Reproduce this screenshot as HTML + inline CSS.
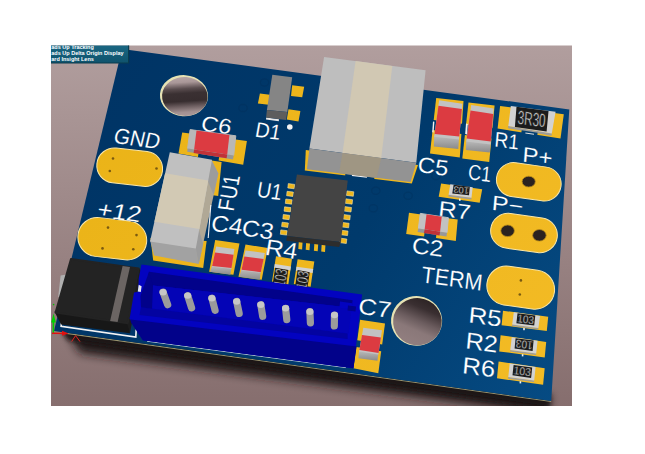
<!DOCTYPE html>
<html><head><meta charset="utf-8"><title>PCB 3D view</title>
<style>
html,body{margin:0;padding:0;background:#fff;}
body{width:645px;height:454px;overflow:hidden;position:relative;}
svg{position:absolute;left:0;top:0;display:block;}
text{font-family:"Liberation Sans",sans-serif;}
</style></head><body>
<svg width="645" height="454" viewBox="0 0 645 454">
<defs>
<clipPath id="vp"><rect x="51" y="45.4" width="521" height="360.5"/></clipPath>
<linearGradient id="bg" x1="0" y1="0" x2="0" y2="1">
<stop offset="0" stop-color="#b19e9e"/><stop offset="1" stop-color="#866e6e"/></linearGradient>
<linearGradient id="brd" gradientUnits="userSpaceOnUse" x1="90" y1="80" x2="560" y2="390">
<stop offset="0" stop-color="#003465"/><stop offset="0.55" stop-color="#003a6c"/><stop offset="1" stop-color="#064b83"/></linearGradient>
<linearGradient id="hole1" x1="0.42" y1="0" x2="0.58" y2="1">
<stop offset="0" stop-color="#b8a6a6"/><stop offset="0.14" stop-color="#a99798"/><stop offset="0.3" stop-color="#5a4d4f"/><stop offset="0.42" stop-color="#3a3032"/><stop offset="0.62" stop-color="#372d2f"/><stop offset="0.76" stop-color="#6f6062"/><stop offset="0.9" stop-color="#a39192"/><stop offset="1" stop-color="#ab999a"/></linearGradient>
<linearGradient id="hole2" x1="0.68" y1="0" x2="0.36" y2="1">
<stop offset="0" stop-color="#2b2223"/><stop offset="0.22" stop-color="#3a2f31"/><stop offset="0.48" stop-color="#6b5c5e"/><stop offset="0.68" stop-color="#8a7879"/><stop offset="1" stop-color="#927f80"/></linearGradient>
<linearGradient id="ovl" x1="0" y1="0" x2="0" y2="1">
<stop offset="0" stop-color="#1b6884"/><stop offset="1" stop-color="#0f536d"/></linearGradient>
<linearGradient id="yel" gradientUnits="userSpaceOnUse" x1="90" y1="80" x2="560" y2="390">
<stop offset="0" stop-color="#eab317"/><stop offset="1" stop-color="#f3bb25"/></linearGradient>
<linearGradient id="capf" x1="0" y1="0" x2="0" y2="1">
<stop offset="0" stop-color="#bcbcbc"/><stop offset="1" stop-color="#8a8a8a"/></linearGradient>
<filter id="blur" x="-20%" y="-20%" width="140%" height="140%"><feGaussianBlur stdDeviation="5"/></filter>
<filter id="blur1" x="-20%" y="-20%" width="140%" height="140%"><feGaussianBlur stdDeviation="2.2"/></filter>
</defs>
<g clip-path="url(#vp)">
<rect x="51" y="45" width="521" height="361" fill="url(#bg)"/>

<polygon points="64.0,327.0 550.2,395.0 547.2,414.0 80.0,353.0" fill="#1a1213" filter="url(#blur)" opacity="0.95"/>
<polygon points="60.0,327.0 550.2,395.0 549.2,408.0 68.0,340.0" fill="#1a1213" filter="url(#blur1)" opacity="0.95"/>
<polygon points="54.0,331.0 551.2,401.0 551.2,402.0 54.0,332.3" fill="#9a946e" />
<polygon points="122.0,49.0 569.3,109.4 551.2,401.0 54.0,331.0" fill="url(#brd)" />
<g transform="rotate(4 184 95.7)">
<ellipse cx="184" cy="95.7" rx="24.1" ry="20.6" fill="#e6e2b4"/>
<ellipse cx="184.9" cy="96.4" rx="22.8" ry="19.4" fill="url(#hole1)"/>
</g>
<g transform="rotate(6 416.6 320.9)">
<ellipse cx="416.6" cy="320.9" rx="25.6" ry="24.8" fill="#e6e2b4"/>
<ellipse cx="417.5" cy="321.6" rx="24.3" ry="23.6" fill="url(#hole2)"/>
</g>
<g transform="rotate(6.5 129.7 167.2)">
<rect x="96.7" y="149.7" width="66" height="35" rx="17.5" ry="17.5" fill="url(#yel)" stroke="#fbe6a6" stroke-width="1"/>
</g>
<circle cx="113" cy="158.5" r="1.3" fill="#7a5a10"/>
<circle cx="109.8" cy="171" r="1.3" fill="#7a5a10"/>
<circle cx="156.5" cy="168.5" r="1.3" fill="#7a5a10"/>
<g transform="rotate(6.5 112.3 238.7)">
<rect x="77.8" y="219.2" width="69" height="39" rx="19.5" ry="19.5" fill="url(#yel)" stroke="#fbe6a6" stroke-width="1"/>
</g>
<circle cx="108" cy="227.6" r="1.3" fill="#7a5a10"/>
<circle cx="136.5" cy="235.1" r="1.3" fill="#7a5a10"/>
<circle cx="102.5" cy="248.4" r="1.3" fill="#7a5a10"/>
<circle cx="133.3" cy="249.2" r="1.3" fill="#7a5a10"/>
<g transform="rotate(8 528.8 181.8)">
<rect x="496.3" y="164.8" width="65" height="34" rx="17" ry="17" fill="url(#yel)" stroke="#fbe6a6" stroke-width="1"/>
</g>
<ellipse cx="528.7" cy="181.6" rx="6.6" ry="5.4" fill="#2a2220" stroke="#b98a1a" stroke-width="0.8"/>
<g transform="rotate(8 524 233)">
<rect x="490.5" y="215.5" width="67" height="35" rx="17.5" ry="17.5" fill="url(#yel)" stroke="#fbe6a6" stroke-width="1"/>
</g>
<ellipse cx="507.6" cy="230.8" rx="6.8" ry="5.8" fill="#2a2220" stroke="#b98a1a" stroke-width="0.8"/>
<ellipse cx="539.4" cy="235.3" rx="6.8" ry="5.8" fill="#2a2220" stroke="#b98a1a" stroke-width="0.8"/>
<g transform="rotate(8 520.7 287.6)">
<rect x="486.7" y="268.1" width="68" height="39" rx="19.5" ry="19.5" fill="url(#yel)" stroke="#fbe6a6" stroke-width="1"/>
</g>
<circle cx="520.9" cy="280.4" r="1.3" fill="#7a5a10"/>
<circle cx="519.8" cy="294.5" r="1.3" fill="#7a5a10"/>
<polygon points="436.2,97.9 463.5,101.1 462.0,123.7 433.7,120.1" fill="url(#yel)" />
<polygon points="432.6,130.1 461.4,133.9 459.8,157.6 430.0,153.4" fill="url(#yel)" />
<polygon points="434.2,135.6 459.0,138.3 458.3,149.0 433.8,146.4" fill="url(#capf)" />
<polygon points="439.1,100.2 462.4,103.7 459.0,139.5 434.2,136.8" fill="#c2c2c2" />
<polygon points="438.4,105.7 461.9,109.1 459.3,136.6 434.6,133.9" fill="#dc3b41" />
<polygon points="468.5,102.4 494.6,105.6 492.4,128.2 466.0,124.8" fill="url(#yel)" />
<polygon points="464.9,134.9 491.5,138.4 489.2,162.1 462.3,158.4" fill="url(#yel)" />
<polygon points="466.3,140.3 490.6,143.3 489.8,152.6 465.8,149.9" fill="url(#capf)" />
<polygon points="471.2,105.0 493.7,108.5 490.6,144.5 466.3,141.5" fill="#c2c2c2" />
<polygon points="470.5,110.5 493.2,113.9 490.8,141.6 466.7,138.6" fill="#dc3b41" />
<polygon points="466.0,123.6 467.8,123.9 467.0,134.4 465.2,134.1" fill="#f0f0f0" />
<polygon points="433.0,121.6 434.4,121.8 433.6,132.4 432.2,132.2" fill="#f0f0f0" />
<polygon points="215.2,240.0 239.5,243.4 233.4,274.8 209.1,271.7" fill="url(#yel)" />
<polygon points="212.1,265.5 231.4,267.5 230.4,274.8 210.1,271.7" fill="url(#capf)" />
<polygon points="216.2,246.4 234.4,248.9 231.4,268.7 212.1,266.7" fill="#c2c2c2" />
<polygon points="215.0,252.5 233.5,254.8 231.5,268.1 212.2,266.1" fill="#dc3b41" />
<polygon points="245.5,244.4 267.8,248.1 261.7,279.8 238.5,276.8" fill="url(#yel)" />
<polygon points="241.5,269.1 260.7,271.6 259.7,279.8 239.5,276.8" fill="url(#capf)" />
<polygon points="245.5,250.5 264.8,252.9 260.7,272.8 241.5,270.3" fill="#c2c2c2" />
<polygon points="244.3,256.4 263.6,258.9 260.8,272.2 241.6,269.7" fill="#dc3b41" />
<polygon points="360.1,319.8 385.0,323.5 382.2,344.4 357.3,340.2" fill="url(#yel)" />
<polygon points="356.3,347.0 381.2,351.3 378.3,373.2 353.4,368.3" fill="url(#yel)" />
<polygon points="359.1,350.4 378.3,353.4 377.5,360.8 358.4,358.3" fill="url(#capf)" />
<polygon points="363.3,327.7 382.0,330.2 378.3,354.6 359.1,351.6" fill="#c2c2c2" />
<polygon points="362.0,334.9 380.9,337.5 378.6,352.9 359.4,349.9" fill="#dc3b41" />
<polygon points="182.2,132.4 201.6,135.0 197.9,157.0 178.5,153.6" fill="url(#yel)" />
<polygon points="222.3,137.8 246.9,141.1 243.2,164.8 218.6,160.5" fill="url(#yel)" />
<polygon points="190.1,129.6 235.8,135.8 233.7,155.4 187.6,148.4" fill="#b8b8b8" stroke="#b8b8b8" stroke-width="1" stroke-linejoin="round"/>
<polygon points="196.5,130.5 229.4,134.9 227.2,154.4 194.1,149.4" fill="#dc3b41" />
<polygon points="187.6,148.4 233.7,155.4 233.0,159.4 187.2,151.8" fill="#989898" />
<polygon points="194.1,149.4 227.2,154.4 226.6,158.3 193.6,152.9" fill="#c03238" />
<polygon points="409.0,212.8 426.5,215.2 424.1,236.5 406.2,234.0" fill="url(#yel)" />
<polygon points="438.2,216.9 457.7,219.6 455.8,240.9 436.0,238.1" fill="url(#yel)" />
<polygon points="420.3,213.4 448.4,217.7 447.0,232.7 418.4,228.4" fill="#c2c2c2" stroke="#c2c2c2" stroke-width="1" stroke-linejoin="round"/>
<polygon points="426.5,214.3 441.7,216.7 440.1,231.7 424.7,229.3" fill="#dc3b41" />
<polygon points="418.4,228.4 447.0,232.7 446.5,236.4 417.5,232.1" fill="#989898" />
<polygon points="424.7,229.3 440.1,231.7 439.5,235.4 423.9,233.0" fill="#c03238" />
<polygon points="500.1,106.1 563.8,114.3 560.5,138.5 497.6,128.5" fill="url(#yel)" />
<polygon points="508.3,126.0 551.8,133.5 551.6,135.7 508.1,128.2" fill="#9c9c9c" />
<polygon points="510.8,106.1 555.6,111.8 551.8,133.5 508.3,126.0" fill="#d2d2d2" />
<polygon points="516.5,106.8 548.5,110.9 546.6,131.6 514.9,127.0" fill="#1b1b1b" />
<text transform="matrix(1.0579 0.1355 -0.1371 1.7314 517.27 123.83)" font-size="11.0" fill="#e6e6e6" stroke="#1c1c1c" stroke-width="0.30">3R30</text>
<polygon points="521.7,130.3 537.6,132.8 537.0,137.2 521.0,134.6" fill="url(#brd)" />
<polygon points="525.4,132.4 534.0,133.7 533.9,134.8 525.3,133.5" fill="#e0e0e0" />
<polygon points="441.1,183.6 482.2,189.3 479.7,202.7 438.7,196.8" fill="url(#yel)" />
<polygon points="448.6,194.8 471.5,197.8 471.3,199.4 448.4,196.4" fill="#9c9c9c" />
<polygon points="450.3,184.3 472.7,187.3 471.5,197.8 448.6,194.8" fill="#d2d2d2" />
<polygon points="453.6,184.8 469.8,186.8 469.0,195.3 452.3,193.5" fill="#1b1b1b" />
<text transform="matrix(-0.8451 -0.0911 0.0790 -0.8390 469.23 187.77)" font-size="11.0" fill="#e6e6e6" stroke="#1c1c1c" stroke-width="0.30">103</text>
<rect x="459.0" y="198.6" width="1.6" height="2.2" fill="#f2f2f2"/>
<polygon points="503.0,310.7 548.2,316.8 546.8,331.0 501.6,325.3" fill="url(#yel)" />
<polygon points="512.2,324.4 538.4,328.0 538.2,329.6 512.0,326.0" fill="#9c9c9c" />
<polygon points="513.8,312.2 540.0,315.9 538.4,328.0 512.2,324.4" fill="#d2d2d2" />
<polygon points="517.5,313.2 535.3,315.5 534.2,325.6 516.4,323.2" fill="#1b1b1b" />
<text transform="matrix(0.9007 0.1164 -0.1086 0.9870 517.03 322.06)" font-size="11.0" fill="#e6e6e6" stroke="#1c1c1c" stroke-width="0.30">103</text>
<rect x="523.2" y="328.0" width="1.6" height="2.2" fill="#f2f2f2"/>
<polygon points="500.6,335.2 546.2,341.9 544.7,357.4 499.2,351.4" fill="url(#yel)" />
<polygon points="510.3,350.0 536.2,353.5 536.0,355.1 510.1,351.6" fill="#9c9c9c" />
<polygon points="511.7,337.2 537.6,340.7 536.2,353.5 510.3,350.0" fill="#d2d2d2" />
<polygon points="515.6,338.2 533.6,340.6 532.6,351.0 514.6,348.4" fill="#1b1b1b" />
<text transform="matrix(-0.9109 -0.1316 0.0987 -1.0265 532.97 341.77)" font-size="11.0" fill="#e6e6e6" stroke="#1c1c1c" stroke-width="0.30">103</text>
<rect x="521.8" y="354.2" width="1.6" height="2.2" fill="#f2f2f2"/>
<polygon points="498.6,361.5 544.7,368.2 543.1,384.8 497.0,378.3" fill="url(#yel)" />
<polygon points="508.3,377.1 534.2,380.4 534.0,382.0 508.1,378.7" fill="#9c9c9c" />
<polygon points="509.7,363.5 535.6,367.1 534.2,380.4 508.3,377.1" fill="#d2d2d2" />
<polygon points="513.6,364.9 532.2,367.4 531.1,377.9 512.5,375.2" fill="#1b1b1b" />
<text transform="matrix(0.9412 0.1265 -0.1086 1.0166 513.16 374.03)" font-size="11.0" fill="#e6e6e6" stroke="#1c1c1c" stroke-width="0.30">103</text>
<rect x="519.6" y="381.2" width="1.6" height="2.2" fill="#f2f2f2"/>
<polygon points="276.0,256.3 292.0,258.8 288.3,284.4 272.0,281.6" fill="url(#yel)" />
<polygon points="274.8,263.9 290.9,266.5 290.3,270.6 274.2,267.9" fill="#d2d2d2" />
<polygon points="275.2,267.7 288.3,270.0 285.8,287.2 272.6,284.8" fill="#1b1b1b" />
<text transform="matrix(0.1438 -0.9458 1.4743 0.2681 284.84 287.30)" font-size="11.0" fill="#ececec" stroke="#1c1c1c" stroke-width="0.30">103</text>
<polygon points="297.6,259.3 314.3,261.6 310.6,286.7 293.8,284.0" fill="url(#yel)" />
<polygon points="296.5,266.7 313.2,269.1 312.6,273.1 295.9,270.7" fill="#d2d2d2" />
<polygon points="297.6,270.0 309.7,272.3 307.2,289.6 295.0,287.2" fill="#1b1b1b" />
<text transform="matrix(0.1438 -0.9513 1.3626 0.2681 306.31 289.70)" font-size="11.0" fill="#ececec" stroke="#1c1c1c" stroke-width="0.30">103</text>
<polygon points="259.9,93.5 269.9,94.7 268.6,104.7 257.9,103.4" fill="url(#yel)" />
<polygon points="292.2,85.3 304.2,86.8 302.2,97.2 291.0,96.0" fill="url(#yel)" />
<polygon points="288.5,109.2 300.4,110.9 298.5,121.6 286.8,119.6" fill="url(#yel)" />
<polygon points="266.2,117.6 279.0,119.2 278.8,121.2 266.0,119.6" fill="#e8e8e8" />
<polygon points="272.3,74.8 292.2,77.3 287.3,112.1 266.9,110.1" fill="#858585" />
<polygon points="266.9,110.1 287.3,112.1 286.0,120.1 266.1,117.6" fill="#5d5d5d" />
<circle cx="289.8" cy="127" r="2.8" fill="#f4f4f4"/>
<polygon points="305.8,150.0 418.0,165.0 411.8,183.6 304.8,170.4" fill="url(#yel)" />
<polygon points="345.5,172.5 374.5,176.3 374.1,180.5 345.1,176.5" fill="url(#brd)" />
<polygon points="352.0,174.3 367.0,176.2 366.9,177.8 351.9,175.9" fill="#f0f0f0" />
<polygon points="324.1,56.9 425.6,70.3 416.3,162.7 309.4,148.6" fill="#bebebe" />
<polygon points="355.6,61.1 392.3,65.9 381.2,158.1 342.5,153.0" fill="#d1c8b3" />
<polygon points="309.4,148.6 416.3,162.7 410.6,182.1 306.9,169.2" fill="#939393" />
<polygon points="342.5,153.0 381.2,158.1 376.6,177.9 339.0,173.2" fill="#9f9683" />
<polygon points="205.0,159.5 221.6,162.0 218.2,196.0 208.0,194.5" fill="url(#yel)" />
<polygon points="150.5,238.0 206.6,241.0 203.2,268.0 153.2,260.6" fill="url(#yel)" />
<polygon points="211.4,159.8 218.3,173.5 198.8,264.0 195.2,248.4" fill="#b0a896" />
<polygon points="211.4,159.8 218.3,173.5 213.7,194.8 207.6,180.6" fill="#9c9c9c" />
<polygon points="198.8,228.9 203.1,244.1 198.8,264.0 195.2,248.4" fill="#9c9c9c" />
<polygon points="150.0,240.2 195.8,247.2 198.8,264.0 154.2,255.6" fill="#a2a2a2" />
<polygon points="169.8,152.3 212.0,159.8 195.8,248.4 150.0,241.4" fill="#c0c0c0" />
<polygon points="165.1,173.2 208.2,180.6 199.4,228.9 154.4,221.8" fill="#d2c9b4" />
<ellipse cx="375.8" cy="190.8" rx="4.2" ry="3.6" fill="none" stroke="#012a52" stroke-width="1.2" opacity="0.28"/>
<ellipse cx="408.1" cy="195.8" rx="4.2" ry="3.6" fill="none" stroke="#012a52" stroke-width="1.2" opacity="0.28"/>
<ellipse cx="373.3" cy="208.3" rx="4.2" ry="3.6" fill="none" stroke="#012a52" stroke-width="1.2" opacity="0.28"/>
<ellipse cx="264.5" cy="82.5" rx="4.2" ry="3.6" fill="none" stroke="#012a52" stroke-width="1.2" opacity="0.28"/>
<ellipse cx="243.0" cy="108.0" rx="4.2" ry="3.6" fill="none" stroke="#012a52" stroke-width="1.2" opacity="0.28"/>
<ellipse cx="436.0" cy="176.0" rx="4.2" ry="3.6" fill="none" stroke="#012a52" stroke-width="1.2" opacity="0.28"/>
<ellipse cx="283.0" cy="230.0" rx="4.2" ry="3.6" fill="none" stroke="#012a52" stroke-width="1.2" opacity="0.28"/>
<line x1="210.8" y1="205" x2="208.2" y2="238" stroke="#f2f2f2" stroke-width="1.1"/>
<polygon points="288.3,183.6 294.7,184.4 294.2,188.8 287.8,188.0" fill="url(#yel)" stroke="#f6e3a6" stroke-width="0.6"/>
<polygon points="287.1,191.3 293.4,192.1 292.9,196.5 286.6,195.7" fill="url(#yel)" stroke="#f6e3a6" stroke-width="0.6"/>
<polygon points="285.8,199.0 292.2,199.8 291.7,204.2 285.3,203.4" fill="url(#yel)" stroke="#f6e3a6" stroke-width="0.6"/>
<polygon points="284.6,206.8 290.9,207.6 290.4,211.9 284.1,211.2" fill="url(#yel)" stroke="#f6e3a6" stroke-width="0.6"/>
<polygon points="283.3,214.5 289.7,215.3 289.2,219.7 282.8,218.9" fill="url(#yel)" stroke="#f6e3a6" stroke-width="0.6"/>
<polygon points="282.1,222.2 288.4,223.0 287.9,227.4 281.6,226.6" fill="url(#yel)" stroke="#f6e3a6" stroke-width="0.6"/>
<polygon points="280.8,229.9 287.2,230.7 286.7,235.1 280.3,234.3" fill="url(#yel)" stroke="#f6e3a6" stroke-width="0.6"/>
<polygon points="346.9,190.9 353.8,191.8 353.3,196.3 346.4,195.4" fill="url(#yel)" stroke="#f6e3a6" stroke-width="0.6"/>
<polygon points="345.7,198.8 352.6,199.7 352.1,204.2 345.2,203.3" fill="url(#yel)" stroke="#f6e3a6" stroke-width="0.6"/>
<polygon points="344.6,206.6 351.5,207.5 351.0,212.0 344.1,211.1" fill="url(#yel)" stroke="#f6e3a6" stroke-width="0.6"/>
<polygon points="343.4,214.5 350.3,215.4 349.8,219.9 342.9,219.0" fill="url(#yel)" stroke="#f6e3a6" stroke-width="0.6"/>
<polygon points="342.2,222.4 349.1,223.3 348.6,227.8 341.7,226.9" fill="url(#yel)" stroke="#f6e3a6" stroke-width="0.6"/>
<polygon points="341.1,230.2 348.0,231.1 347.5,235.6 340.6,234.7" fill="url(#yel)" stroke="#f6e3a6" stroke-width="0.6"/>
<polygon points="339.9,238.1 346.8,239.0 346.3,243.5 339.4,242.6" fill="url(#yel)" stroke="#f6e3a6" stroke-width="0.6"/>
<polygon points="298.8,241.5 302.6,242.0 302.1,249.6 298.3,249.1" fill="url(#yel)" />
<polygon points="306.2,242.2 310.0,242.7 309.5,250.3 305.7,249.8" fill="url(#yel)" />
<polygon points="314.4,243.1 318.2,243.6 317.7,251.2 313.9,250.7" fill="url(#yel)" />
<polygon points="321.7,243.9 325.5,244.4 325.0,252.0 321.2,251.5" fill="url(#yel)" />
<polygon points="296.9,174.4 347.7,180.6 340.9,242.1 287.0,235.9" fill="#444444" />
<polygon points="287.0,235.9 340.9,242.1 339.2,247.1 286.2,240.8" fill="#2d2d2d" />
<polyline points="61.5,322.0 61.1,326.2 135.8,337.0 136.2,329.5" fill="none" stroke="#f4f4f4" stroke-width="1.6"/>
<polygon points="60.6,275.5 66.0,274.5 61.0,296.5 58.2,297.0" fill="#b0b0b0" />
<polygon points="54.4,311.4 128.3,322.1 130.0,333.3 61.1,324.6" fill="#171717" />
<polygon points="139.5,267.9 141.0,272.0 130.0,333.3 127.3,324.1" fill="#1d1d1d" />
<polygon points="71.0,259.0 138.6,268.6 127.6,323.2 55.6,312.6" fill="#232323" stroke="#232323" stroke-width="2" stroke-linejoin="round"/>
<polygon points="122.6,266.1 130.0,266.9 117.6,322.1 110.1,321.1" fill="#6b6563" />
<polyline points="147.0,341.2 346.0,367.6" fill="none" stroke="#f4f4f4" stroke-width="1.0" opacity="0.75"/>
<polygon points="141.5,264.4 362.1,294.4 353.4,368.3 142.8,340.3 129.6,318.6 134.0,292.5 138.2,291.8 138.7,278.4" fill="#0303c0" />
<polygon points="130.5,319.4 356.6,346.5 353.4,368.3 142.8,340.3 131.0,322.5" fill="#02028a" />
<polygon points="149.0,271.8 352.6,300.3 351.6,307.8 146.5,284.8" fill="#02028a" />
<polygon points="146.5,284.8 351.6,307.8 348.6,333.5 141.0,307.3" fill="#0404b6" />
<polygon points="141.0,307.3 347.6,333.4 347.6,338.9 139.5,315.0" fill="#0303a0" />
<polygon points="149.0,271.8 153.0,285.6 152.0,308.7 141.0,307.3 140.5,296.0" fill="#02028a" />
<polygon points="138.7,284.8 141.6,286.2 140.8,292.0 137.8,291.6" fill="#e8e8f0" />
<polygon points="340.0,301.5 352.3,303.2 351.7,309.5 339.4,307.8" fill="#0303c0" />
<polygon points="348.0,305.5 356.0,306.6 355.5,311.5 347.5,310.4" fill="#02028a" />
<line x1="163.1" y1="292.2" x2="167.7" y2="304.7" stroke="#9b9b9b" stroke-width="7.2" stroke-linecap="round"/>
<ellipse cx="163.1" cy="292.2" rx="3.6" ry="3.2" fill="#c6c6c6"/>
<line x1="187.7" y1="295.6" x2="191.6" y2="307.9" stroke="#9b9b9b" stroke-width="7.2" stroke-linecap="round"/>
<ellipse cx="187.7" cy="295.6" rx="3.6" ry="3.2" fill="#c6c6c6"/>
<line x1="211.9" y1="298.2" x2="215.1" y2="310.3" stroke="#9b9b9b" stroke-width="7.2" stroke-linecap="round"/>
<ellipse cx="211.9" cy="298.2" rx="3.6" ry="3.2" fill="#c6c6c6"/>
<line x1="236.7" y1="301.5" x2="239.2" y2="313.4" stroke="#9b9b9b" stroke-width="7.2" stroke-linecap="round"/>
<ellipse cx="236.7" cy="301.5" rx="3.6" ry="3.2" fill="#c6c6c6"/>
<line x1="260.8" y1="304.7" x2="262.7" y2="316.3" stroke="#9b9b9b" stroke-width="7.2" stroke-linecap="round"/>
<ellipse cx="260.8" cy="304.7" rx="3.6" ry="3.2" fill="#c6c6c6"/>
<line x1="285.6" y1="308.3" x2="286.8" y2="319.7" stroke="#9b9b9b" stroke-width="7.2" stroke-linecap="round"/>
<ellipse cx="285.6" cy="308.3" rx="3.6" ry="3.2" fill="#c6c6c6"/>
<line x1="309.9" y1="311.7" x2="310.4" y2="322.9" stroke="#9b9b9b" stroke-width="7.2" stroke-linecap="round"/>
<ellipse cx="309.9" cy="311.7" rx="3.6" ry="3.2" fill="#c6c6c6"/>
<line x1="334.5" y1="315.0" x2="334.3" y2="326.0" stroke="#9b9b9b" stroke-width="7.2" stroke-linecap="round"/>
<ellipse cx="334.5" cy="315.0" rx="3.6" ry="3.2" fill="#c6c6c6"/>
<text transform="matrix(0.9882 0.1353 -0.2408 1.0214 112.46 142.86)" font-size="21.00" fill="#fff"  stroke="#003567" stroke-width="0.12">GND</text>
<text transform="matrix(1.2211 0.1690 -0.2436 1.0352 96.02 216.32)" font-size="21.00" fill="#fff"  stroke="#003667" stroke-width="0.12">+12</text>
<text transform="matrix(1.1178 0.1525 -0.2019 0.9938 200.03 130.24)" font-size="21.00" fill="#fff"  stroke="#003768" stroke-width="0.12">C6</text>
<text transform="matrix(0.9399 0.1282 -0.1818 1.0007 254.22 136.48)" font-size="21.00" fill="#fff"  stroke="#003769" stroke-width="0.12">D1</text>
<text transform="matrix(0.9193 0.1265 -0.1857 1.0490 255.95 196.80)" font-size="21.00" fill="#fff"  stroke="#00386a" stroke-width="0.12">U1</text>
<text transform="matrix(1.1596 0.1605 -0.2065 1.0766 210.08 230.43)" font-size="21.00" fill="#fff"  stroke="#003869" stroke-width="0.12">C4</text>
<text transform="matrix(1.1743 0.1625 -0.1940 1.0766 240.77 235.23)" font-size="21.00" fill="#fff"  stroke="#00386a" stroke-width="0.12">C3</text>
<text transform="matrix(1.1976 0.1661 -0.1830 1.0766 264.19 254.72)" font-size="21.00" fill="#fff"  stroke="#00396b" stroke-width="0.12">R4</text>
<text transform="matrix(1.1372 0.1554 -0.1219 1.0352 417.01 171.84)" font-size="21.00" fill="#fff"  stroke="#013c6e" stroke-width="0.12">C5</text>
<text transform="matrix(0.8551 0.1169 -0.1006 1.0214 467.50 179.08)" font-size="21.00" fill="#fff"  stroke="#023e72" stroke-width="0.12">C1</text>
<text transform="matrix(0.9066 0.1233 -0.0894 1.0007 494.08 146.29)" font-size="21.00" fill="#fff"  stroke="#023f72" stroke-width="0.12">R1</text>
<text transform="matrix(1.1352 0.1546 -0.0786 1.0076 522.09 161.54)" font-size="21.00" fill="#fff"  stroke="#034176" stroke-width="0.12">P+</text>
<text transform="matrix(1.1947 0.1639 -0.0876 0.9938 491.29 209.72)" font-size="21.00" fill="#fff"  stroke="#034176" stroke-width="0.12">P−</text>
<text transform="matrix(1.1978 0.1646 -0.1086 1.0076 437.79 215.52)" font-size="21.00" fill="#fff"  stroke="#023e72" stroke-width="0.12">R7</text>
<text transform="matrix(1.1631 0.1608 -0.1237 1.0628 411.18 252.63)" font-size="21.00" fill="#fff"  stroke="#013e72" stroke-width="0.12">C2</text>
<text transform="matrix(1.0205 0.1417 -0.1220 1.0904 420.86 282.23)" font-size="21.00" fill="#fff"  stroke="#024175" stroke-width="0.12">TERM</text>
<text transform="matrix(1.2239 0.1709 -0.1415 1.0628 357.51 313.42)" font-size="21.00" fill="#fff"  stroke="#013e71" stroke-width="0.12">C7</text>
<text transform="matrix(1.2327 0.1719 -0.0994 1.0697 467.93 322.21)" font-size="21.00" fill="#fff"  stroke="#04447a" stroke-width="0.12">R5</text>
<text transform="matrix(1.1936 0.1671 -0.1028 1.1042 464.99 348.22)" font-size="21.00" fill="#fff"  stroke="#04457b" stroke-width="0.12">R2</text>
<text transform="matrix(1.2174 0.1710 -0.1032 1.1042 461.75 373.01)" font-size="21.00" fill="#fff"  stroke="#04467c" stroke-width="0.12">R6</text>
<text transform="matrix(0.1672 -0.9046 1.0939 0.1509 233.62 211.72)" font-size="21.00" fill="#fff" stroke="#003769" stroke-width="0.12">FU1</text>
<line x1="53.4" y1="333" x2="53.4" y2="321" stroke="#00d000" stroke-width="1.5"/>
<polygon points="51.2,322.5 55.8,322.5 53.6,313.5" fill="#00d000" />
<circle cx="53.6" cy="304.6" r="0.8" fill="#00c000"/>
<line x1="52" y1="333.3" x2="63" y2="333.3" stroke="#e01010" stroke-width="1.5"/>
<polygon points="62.0,330.8 62.0,335.8 68.6,333.5" fill="#e01010" />
<polyline points="71.6,341.6 75.6,335.6 80,341.6" fill="none" stroke="#e02020" stroke-width="1"/>
<rect x="49" y="44" width="79.6" height="19.0" fill="url(#ovl)"/>
<polyline points="128.6,45 128.6,63 51,63" fill="none" stroke="#0a3c4e" stroke-width="1.2"/>
<g font-weight="bold" font-size="6.2" fill="#ffffff" transform="translate(51.3 0) scale(0.89 1)">
<text x="0" y="48.7">ads Up Tracking</text>
<text x="0" y="54.8">ads Up Delta Origin Display</text>
<text x="0" y="60.9">ard Insight Lens</text>
</g>
</g></svg></body></html>
